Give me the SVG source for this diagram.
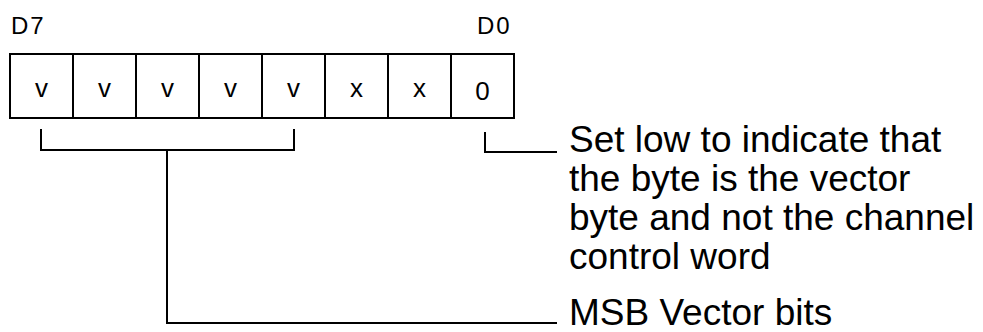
<svg xmlns="http://www.w3.org/2000/svg" width="983" height="332" viewBox="0 0 983 332">
<style>
.t{font-family:"Liberation Sans",Arial,sans-serif;fill:#000}
.lbl{font-size:24px;letter-spacing:2px}
.bit{font-size:26px;text-anchor:middle}
.note{font-size:37px}
.ln{fill:none;stroke:#000;stroke-width:2}
.box{fill:#fff;stroke:#000;stroke-width:2}
</style>
<rect width="983" height="332" fill="#fff"/>
<g id="labels">
<text class="t lbl" x="11" y="34">D7</text>
<text class="t lbl" x="477" y="34">D0</text>
</g>
<g id="register">
<rect class="box" x="10" y="54" width="504" height="64"/>
<path class="ln" d="M73 54V118M136 54V118M199 54V118M262 54V118M325 54V118M388 54V118M451 54V118"/>
<text class="t bit" x="41.5" y="97">v</text>
<text class="t bit" x="104.5" y="97">v</text>
<text class="t bit" x="167.5" y="97">v</text>
<text class="t bit" x="230.5" y="97">v</text>
<text class="t bit" x="293.5" y="97">v</text>
<text class="t bit" x="356.5" y="97">x</text>
<text class="t bit" x="419.5" y="97">x</text>
<text class="t bit" x="482.5" y="100">0</text>
</g>
<g id="connectors">
<path class="ln" d="M41 129V150H294V129"/>
<path class="ln" d="M167 150V323H557"/>
<path class="ln" d="M485 132V152H557"/>
</g>
<g id="note-d0">
<text class="t note" x="569" y="152">Set low to indicate that</text>
<text class="t note" x="569" y="191">the byte is the vector</text>
<text class="t note" x="569" y="230">byte and not the channel</text>
<text class="t note" x="569" y="269">control word</text>
</g>
<g id="note-msb">
<text class="t note" x="569" y="325">MSB Vector bits</text>
</g>
</svg>
